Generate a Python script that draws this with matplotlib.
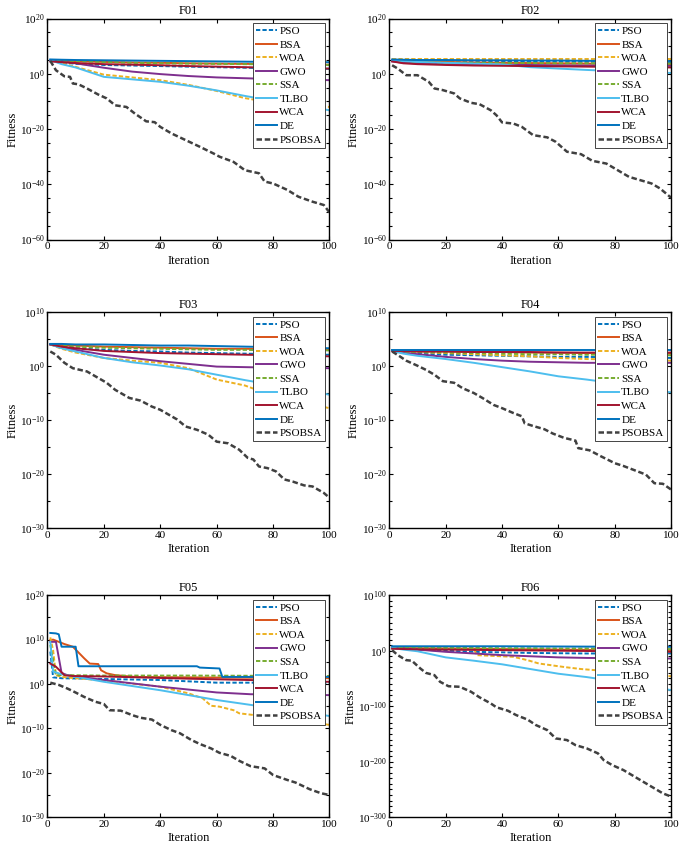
import numpy as np
import matplotlib
matplotlib.use('Agg')
import matplotlib.pyplot as plt
from matplotlib.ticker import FixedLocator, FuncFormatter, NullFormatter

plt.rcParams['font.family'] = ['Liberation Serif', 'DejaVu Serif']
plt.rcParams['mathtext.fontset'] = 'custom'
plt.rcParams['mathtext.rm'] = 'Liberation Serif'
plt.rcParams['mathtext.it'] = 'Liberation Serif:italic'
plt.rcParams['mathtext.bf'] = 'Liberation Serif:bold'

algorithms = ['PSO', 'BSA', 'WOA', 'GWO', 'SSA', 'TLBO', 'WCA', 'DE', 'PSOBSA']
colors = ['#0072BD', '#D95319', '#EDB120', '#7E2F8E', '#77AC30',
          '#4DBEEE', '#A2142F', '#0072BD', '#404040']
dashed = [True, False, True, False, True, False, False, False, True]

# iterations used for the smooth curves
it_c = [1, 5, 10, 20, 30, 40, 50, 60, 70, 80, 90, 100]

# all values below are log10(fitness)
# ---- F01 ----
f01_pso = [5, 4.2, 3.6, 3.2, 3, 2.8, 2.6, 2.4, 2.2, 2, 1.9, 1.8]
f01_bsa = [5, 4.8, 4.6, 4.3, 4.1, 4, 3.8, 3.7, 3.6, 3.5, 3.4, 3.3]
f01_woa = [5, 3.8, 2.5, -0.3, -1.3, -2.3, -4, -6.2, -8.8, -10.5, -11.2, -12]
f01_gwo = [5, 4.5, 3.8, 2.2, 0.8, -0.1, -0.8, -1.3, -1.6, -1.9, -2.1, -2.3]
f01_ssa = [5, 4.8, 4.6, 4.3, 4, 3.8, 3.7, 3.6, 3.5, 3.4, 3.3, 3.2]
f01_tlbo = [5, 3.5, 2.3, -1.1, -2, -2.9, -4.3, -6, -8, -9.8, -11.5, -13.2]
f01_wca = [4.5, 4.2, 3.9, 3.5, 3.3, 3.1, 2.8, 2.6, 2.4, 2.2, 2.0, 1.9]
f01_de = [5.2, 5.1, 5, 4.9, 4.8, 4.7, 4.6, 4.5, 4.4, 4.3, 4.3, 4.2]
f01_psobsa_it = [1, 3, 6, 8, 9, 11, 14, 18, 21, 24, 28, 31, 35, 38, 40, 44, 49, 54,
                 59, 61, 66, 70, 75, 77, 80, 85, 89, 94, 98, 100]
f01_psobsa = [4.7, 1.3, -0.9, -1.1, -3.5, -3.8, -5.3, -7.5, -8.9, -11.4, -12, -14.4,
              -17.2, -17.5, -19.2, -21.6, -24, -26.4, -28.9, -30, -31.9, -34.9, -36,
              -39, -39.7, -42, -44.5, -46.3, -47.5, -50.2]

# ---- F02 ----
f02_pso = [5, 5, 4.9, 4.8, 4.7, 4.6, 4.5, 4.5, 4.4, 4.4, 4.3, 4.3]
f02_bsa = [5, 4.7, 4.5, 4.3, 4.1, 4, 3.9, 3.8, 3.7, 3.6, 3.5, 3.5]
f02_woa = [5.5, 5.5, 5.5, 5.5, 5.5, 5.5, 5.5, 5.5, 5.5, 5.5, 5.5, 5.5]
f02_gwo = [4.5, 4, 3.8, 3.5, 3.4, 3.3, 3.2, 3.1, 3, 3, 2.9, 2.9]
f02_ssa = [5, 4.6, 4.3, 4, 4, 3.9, 3.9, 3.8, 3.8, 3.8, 3.7, 3.7]
f02_tlbo = [5, 4.6, 4.3, 4, 3.7, 3.4, 2.4, 1.9, 1.4, 1, 0.7, 0.3]
f02_wca = [4.5, 3.8, 3.5, 3.2, 3, 2.9, 2.8, 2.7, 2.6, 2.5, 2.4, 2.3]
f02_de = [5.2, 5.1, 5, 5, 4.9, 4.9, 4.8, 4.8, 4.7, 4.7, 4.7, 4.6]
f02_psobsa_it = [1, 3, 6, 10, 14, 16, 19, 23, 25, 29, 32, 36, 38, 40, 44, 47, 51, 56,
                 59, 63, 68, 72, 77, 81, 85, 89, 93, 96, 100]
f02_psobsa = [3.1, 1.9, -0.5, -0.5, -2.9, -5.3, -5.9, -7.1, -8.9, -10.5, -11, -13.2,
              -15, -17.6, -18, -19.2, -22.2, -23, -24.6, -28.2, -29.1, -31.5, -32.5,
              -34.9, -37.3, -38.5, -39.7, -41.5, -44.9]

# ---- F03 ----
f03_pso = [4, 3.6, 3.3, 3, 2.8, 2.7, 2.5, 2.4, 2.3, 2.2, 2.1, 2.1]
f03_bsa = [4, 3.9, 3.8, 3.6, 3.5, 3.4, 3.3, 3.2, 3.2, 3.1, 3.1, 3.0]
f03_woa = [4, 3.2, 2.5, 1.5, 1, 0.6, -0.4, -2.5, -3.6, -5.5, -6.7, -7.8]
f03_gwo = [4, 3.5, 3, 2.1, 1.5, 0.9, 0.4, -0.1, -0.2, -0.3, -0.3, -0.4]
f03_ssa = [4, 3.8, 3.6, 3.4, 3.3, 3.2, 3.1, 3, 3, 2.9, 2.9, 2.9]
f03_tlbo = [4, 3.3, 2.7, 1.5, 0.7, 0.1, -0.6, -1.6, -2.6, -3.5, -4.4, -5.3]
f03_wca = [4, 3.6, 3.3, 2.8, 2.6, 2.4, 2.3, 2.2, 2.1, 2, 1.9, 1.8]
f03_de = [4.1, 4.1, 4, 4, 3.9, 3.8, 3.8, 3.7, 3.6, 3.5, 3.4, 3.3]
f03_psobsa_it = [1, 3, 6, 9, 14, 16, 19, 21, 24, 27, 29, 33, 37, 40, 42, 46, 49, 53,
                 57, 60, 64, 68, 71, 73, 75, 78, 81, 84, 87, 91, 94, 98, 100]
f03_psobsa = [2.7, 2.1, 0.6, -0.4, -1, -1.6, -2.5, -3.1, -4.4, -5.3, -5.9, -6.4, -7.5,
              -8.1, -8.7, -9.9, -11.2, -11.8, -12.7, -14, -14.3, -15.5, -17, -17.3,
              -18.6, -18.9, -19.5, -21, -21.4, -22.1, -22.3, -23.5, -24.4]

# ---- F04 ----
f04_pso = [2.8, 2.5, 2.3, 2.1, 2, 1.9, 1.8, 1.7, 1.7, 1.6, 1.6, 1.5]
f04_bsa = [2.8, 2.8, 2.7, 2.7, 2.6, 2.6, 2.5, 2.5, 2.4, 2.4, 2.3, 2.3]
f04_woa = [2.8, 2.7, 2.6, 2.4, 2.2, 2, 1.8, 1.5, 1.3, 1.2, 1.1, 1.0]
f04_gwo = [2.8, 2.5, 2.2, 1.7, 1.3, 1, 0.8, 0.7, 0.6, 0.6, 0.6, 0.6]
f04_ssa = [2.8, 2.7, 2.6, 2.5, 2.4, 2.3, 2.2, 2.2, 2.1, 2.1, 2.0, 2.0]
f04_tlbo = [2.8, 2.3, 1.9, 1.3, 0.6, -0.2, -1, -1.9, -2.5, -3.2, -4, -4.9]
f04_wca = [2.8, 2.8, 2.7, 2.7, 2.6, 2.6, 2.6, 2.5, 2.5, 2.5, 2.5, 2.5]
f04_de = [2.9, 2.9, 2.9, 2.9, 2.9, 2.9, 2.9, 2.9, 2.9, 2.9, 2.9, 2.9]
f04_psobsa_it = [1, 4, 6, 10, 13, 16, 19, 23, 26, 30, 33, 37, 40, 44, 47, 48, 51, 55,
                 58, 62, 66, 67, 71, 75, 80, 83, 88, 91, 94, 97, 100]
f04_psobsa = [2.7, 1.7, 1, 0.06, -0.7, -1.6, -2.8, -3.1, -4.1, -5, -5.9, -7.2, -7.8,
              -8.7, -9.3, -10.6, -11.1, -11.7, -12.5, -13.3, -13.8, -15.2, -15.6,
              -16.7, -18, -18.5, -19.5, -20.1, -21.7, -21.8, -22.9]

# ---- F05 (irregular early drops, own iteration lists) ----
f05_pso_it = [1, 2, 5, 40, 60, 100]
f05_pso = [7.3, 1.5, 1.3, 0.9, 0.3, 0.3]
f05_bsa_it = [1, 2, 6, 9, 13, 15, 18, 19, 21, 24, 31, 50, 100]
f05_bsa = [9.9, 10, 9, 8.4, 5.8, 4.6, 4.5, 3.1, 2.4, 2, 1.6, 1.5, 1.3]
f05_woa_it = [1, 2, 3, 5, 10, 20, 40, 50, 55, 58, 61, 66, 68, 80, 100]
f05_woa = [10.5, 7.6, 2, 1.6, 1.3, 0.8, -0.6, -2.1, -3.2, -4.9, -5.1, -5.9, -6.6, -7.5, -9.2]
f05_gwo_it = [1, 3, 5, 7, 20, 40, 60, 72, 100]
f05_gwo = [9.5, 9.5, 2.5, 2, 0.9, -0.6, -1.9, -2.3, -2.5]
f05_ssa_it = [1, 3, 5, 20, 50, 100]
f05_ssa = [8.8, 2, 2, 1.9, 1.9, 1.8]
f05_tlbo_it = [1, 2, 5, 20, 40, 60, 72, 100]
f05_tlbo = [9.5, 2.8, 2.2, 0.5, -1.4, -3.6, -4.7, -7.2]
f05_wca_it = [1, 3, 6, 9, 20, 50, 100]
f05_wca = [4.6, 3.9, 2, 1.8, 1.7, 1.2, 0.5]
f05_de_it = [1, 3, 4, 5, 10, 11, 53, 54, 61, 62, 100]
f05_de = [11.5, 11.4, 11.2, 8.4, 8.4, 4, 4, 3.7, 3.5, 1.6, 1.6]
f05_psobsa_it = [1, 4, 7, 9, 13, 17, 20, 22, 26, 30, 33, 37, 40, 44, 47, 51, 54, 58,
                 61, 65, 68, 72, 77, 80, 85, 88, 93, 97, 100]
f05_psobsa = [0.3, -0.2, -1, -1.6, -2.9, -4, -4.5, -5.9, -6, -7, -7.6, -8, -9.2,
              -10.4, -11.1, -12.6, -13.5, -14.5, -15.5, -16.2, -17.3, -18.5, -19,
              -20.5, -21.6, -22.2, -23.7, -24.6, -25]

# ---- F06 ----
f06_pso = [5, 4, 2, 0, -2, -3, -4, -4.5, -5, -5, -5, -5]
f06_bsa = [5, 4.8, 4.5, 4, 3.5, 3, 2.5, 2, 1.5, 1.2, 1, 1]
f06_woa_it = [1, 30, 31, 44, 49, 53, 60, 63, 68, 100]
f06_woa = [5, 4, -8, -11, -17, -23, -28, -30, -33, -46]
f06_gwo = [5, 4, 2, -2, -5, -8, -10, -12, -13, -13.5, -14, -14]
f06_ssa = [6, 6, 5.5, 5, 5, 4.5, 4.5, 4, 4, 3.5, 3.5, 3]
f06_tlbo = [5, 2, -1, -12, -18, -24.5, -33, -41.5, -47.5, -55, -63, -71]
f06_wca = [3.5, 3, 2.5, 2, 1.5, 1, 0.5, 0, -0.5, -1, -1.5, -2]
f06_de = [8, 8, 8, 8, 8, 8, 7.8, 7.6, 7.4, 7.2, 7, 7]
f06_psobsa_it = [1, 3, 6, 8, 11, 13, 16, 18, 21, 25, 29, 32, 36, 38, 42, 45, 49, 52,
                 56, 59, 63, 66, 70, 74, 76, 79, 83, 87, 90, 94, 97, 100]
f06_psobsa = [1, -8, -17, -18, -32, -40, -44, -56, -64, -65, -74, -84, -95, -102,
              -108, -116, -124, -134, -143, -158, -161, -170, -176, -185, -197, -206,
              -215, -227, -236, -248, -257, -263]

# title, ylim exponents (lo, hi), labelled tick step, small tick step, series
panels = [
    ('F01', -60, 20, 20, 5,
     [(it_c, f01_pso), (it_c, f01_bsa), (it_c, f01_woa), (it_c, f01_gwo), (it_c, f01_ssa),
      (it_c, f01_tlbo), (it_c, f01_wca), (it_c, f01_de), (f01_psobsa_it, f01_psobsa)]),
    ('F02', -60, 20, 20, 5,
     [(it_c, f02_pso), (it_c, f02_bsa), (it_c, f02_woa), (it_c, f02_gwo), (it_c, f02_ssa),
      (it_c, f02_tlbo), (it_c, f02_wca), (it_c, f02_de), (f02_psobsa_it, f02_psobsa)]),
    ('F03', -30, 10, 10, 5,
     [(it_c, f03_pso), (it_c, f03_bsa), (it_c, f03_woa), (it_c, f03_gwo), (it_c, f03_ssa),
      (it_c, f03_tlbo), (it_c, f03_wca), (it_c, f03_de), (f03_psobsa_it, f03_psobsa)]),
    ('F04', -30, 10, 10, 5,
     [(it_c, f04_pso), (it_c, f04_bsa), (it_c, f04_woa), (it_c, f04_gwo), (it_c, f04_ssa),
      (it_c, f04_tlbo), (it_c, f04_wca), (it_c, f04_de), (f04_psobsa_it, f04_psobsa)]),
    ('F05', -30, 20, 10, 5,
     [(f05_pso_it, f05_pso), (f05_bsa_it, f05_bsa), (f05_woa_it, f05_woa),
      (f05_gwo_it, f05_gwo), (f05_ssa_it, f05_ssa), (f05_tlbo_it, f05_tlbo),
      (f05_wca_it, f05_wca), (f05_de_it, f05_de), (f05_psobsa_it, f05_psobsa)]),
    ('F06', -300, 100, 100, 10,
     [(it_c, f06_pso), (it_c, f06_bsa), (f06_woa_it, f06_woa), (it_c, f06_gwo), (it_c, f06_ssa),
      (it_c, f06_tlbo), (it_c, f06_wca), (it_c, f06_de), (f06_psobsa_it, f06_psobsa)]),
]

# axes rectangles [left, bottom, width, height] in figure fractions
col_left = [0.0693, 0.5683]
row_box = [(0.7175, 0.2606), (0.3773, 0.2547), (0.0363, 0.2618)]
ax_w = 0.4117

fig = plt.figure(figsize=(6.85, 8.48), dpi=100)

for k, (title, lo, hi, major, minor, series) in enumerate(panels):
    bottom, height = row_box[k // 2]
    ax = fig.add_axes([col_left[k % 2], bottom, ax_w, height])

    for name, color, dash, (its, lg) in zip(algorithms, colors, dashed, series):
        lw = 1.8 if name == 'PSOBSA' else 1.4
        ls = (0, (2.2, 1.1)) if dash else '-'
        ax.plot(its, 10.0 ** np.asarray(lg, dtype=float), color=color, lw=lw,
                linestyle=ls, label=name)

    ax.set_yscale('log')
    ax.set_xlim(0, 100)
    ax.set_ylim(10.0 ** lo, 10.0 ** hi)
    ax.set_xticks([0, 20, 40, 60, 80, 100])
    ax.yaxis.set_major_locator(FixedLocator(10.0 ** np.arange(lo, hi + 1, major)))
    ax.yaxis.set_minor_locator(FixedLocator(10.0 ** np.arange(lo, hi + 1, minor)))
    ax.yaxis.set_major_formatter(FuncFormatter(lambda v, p: r'$10^{%d}$' % round(np.log10(v))))
    ax.yaxis.set_minor_formatter(NullFormatter())
    ax.tick_params(which='both', direction='in', top=True, right=True,
                   labelsize=8, width=0.8, pad=2)
    ax.tick_params(which='major', length=3.2)
    ax.tick_params(which='minor', length=2)
    for sp in ax.spines.values():
        sp.set_linewidth(1.0)

    ax.set_title(title, fontsize=9, pad=3)
    ax.set_xlabel('Iteration', fontsize=9, labelpad=2.5)
    ax.set_ylabel('Fitness', fontsize=9, labelpad=1)

    leg = ax.legend(loc='upper right', fontsize=8, fancybox=False, framealpha=1,
                    edgecolor='0.15', handlelength=1.9, handletextpad=0.2,
                    labelspacing=0.34, borderpad=0.3, borderaxespad=0.4)
    leg.get_frame().set_linewidth(0.6)

plt.savefig('out.png', dpi=100)
plt.close()
